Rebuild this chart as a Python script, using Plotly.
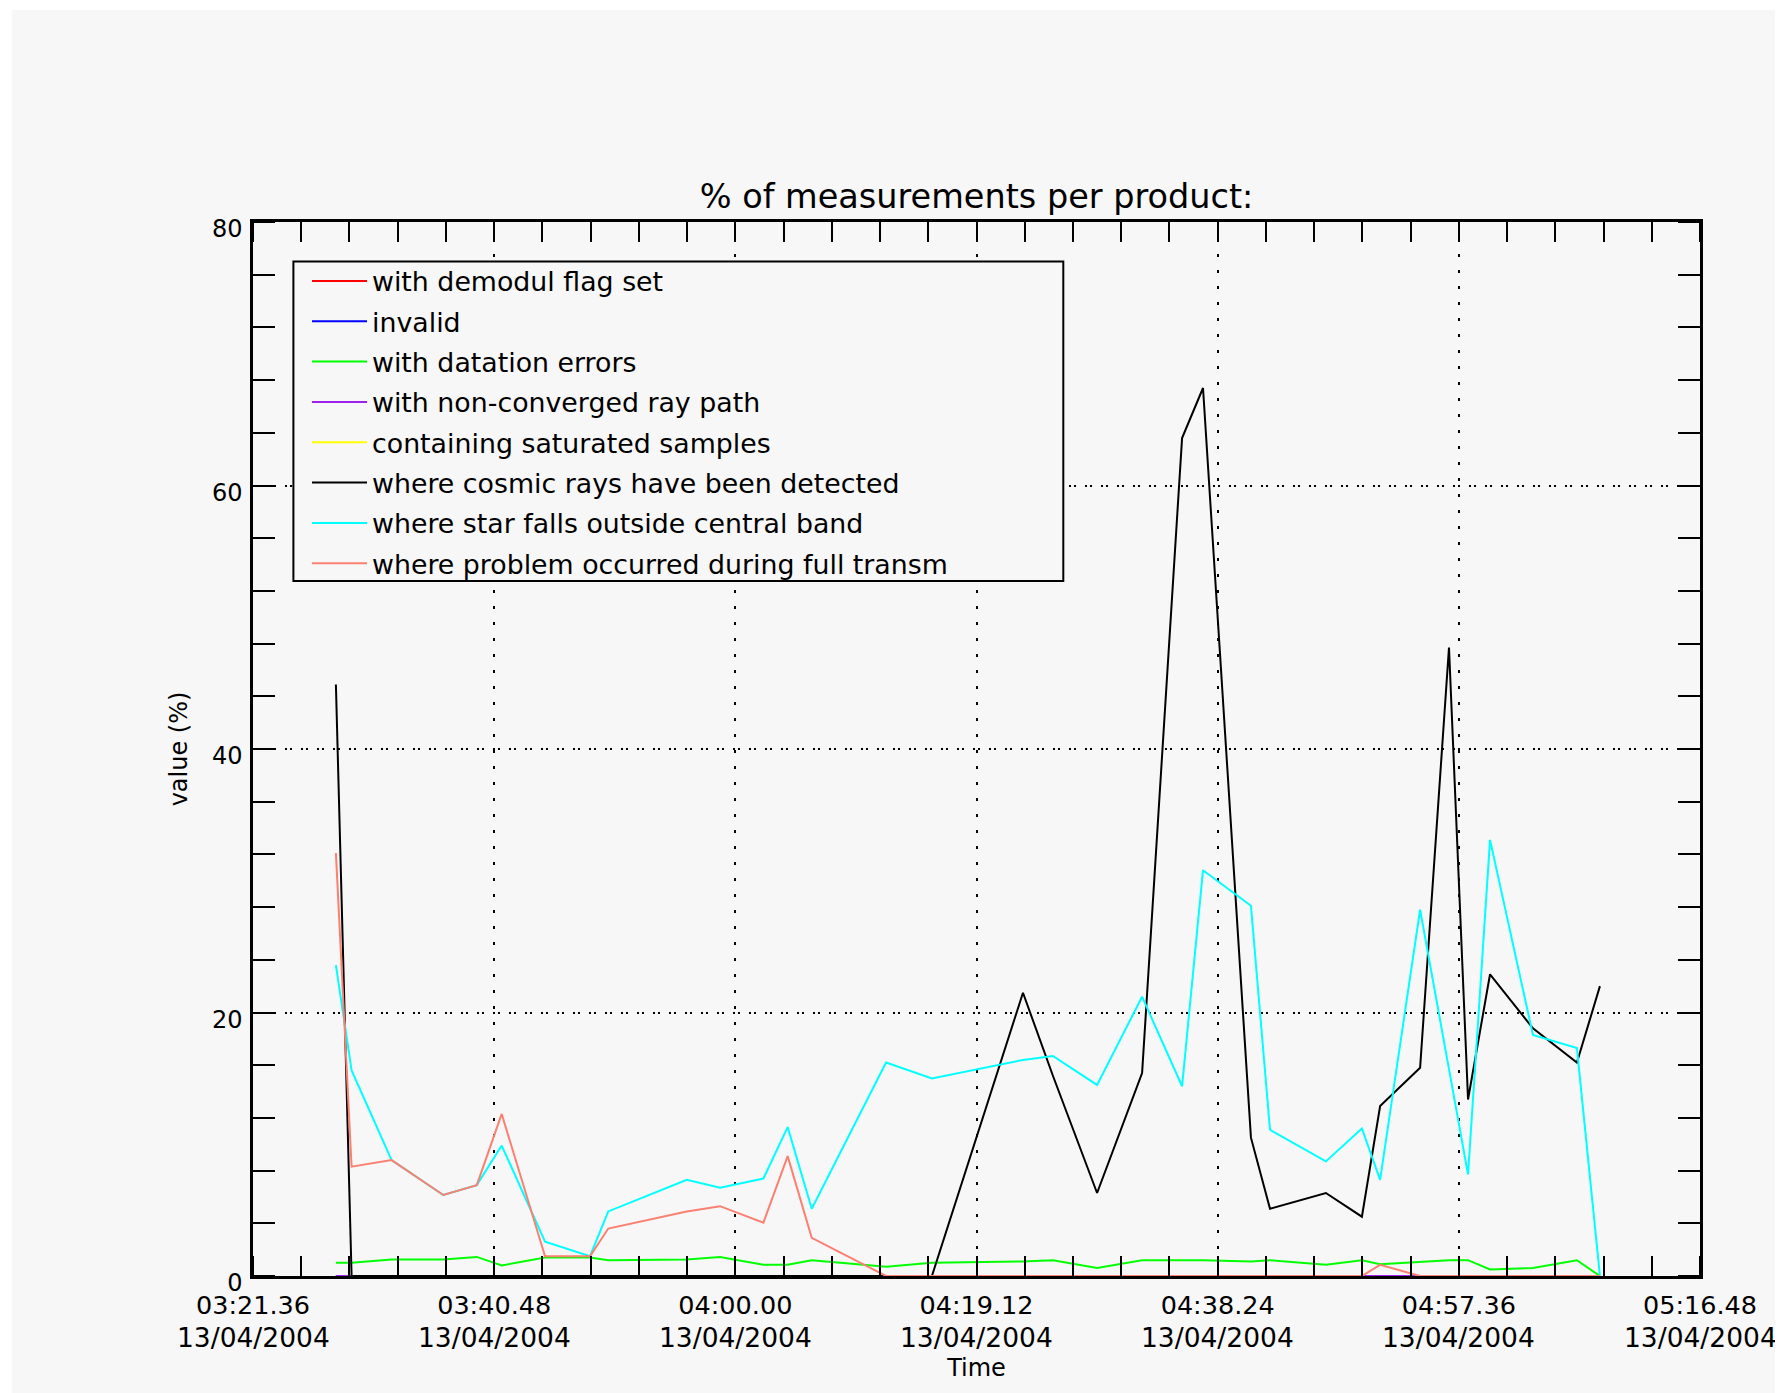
import plotly.graph_objects as go

DAY = "2004-04-13 "

# sample times (HH:MM:SS) of the products
times = ["03:28:12", "03:29:27", "03:32:38", "03:36:45", "03:39:25", "03:41:24",
         "03:44:51", "03:48:26", "03:49:53", "03:56:08", "03:58:47", "04:02:14",
         "04:04:10", "04:06:05", "04:12:00", "04:15:39", "04:22:54", "04:25:17",
         "04:28:48", "04:32:23", "04:35:34", "04:37:14", "04:41:03", "04:42:34",
         "04:47:01", "04:49:53", "04:51:20", "04:54:31", "04:56:49", "04:58:20",
         "05:00:05", "05:03:30", "05:07:00", "05:08:50"]

demodul = [0, 0, 0, 0, 0, 0, 0, 0, 0, 0, 0, 0, 0, 0, 0, 0, 0,
           0, 0, 0, 0, 0, 0, 0, 0, 0, 0, 0, 0, 0, 0, 0, 0, 0]
invalid = [0, 0, 0, 0, 0, 0, 0, 0, 0, 0, 0, 0, 0, 0, 0, 0, 0,
           0, 0, 0, 0, 0, 0, 0, 0, 0, 0, 0, 0, 0, 0, 0, 0, 0]
dation = [1.0, 1.0, 1.25, 1.25, 1.45, 0.8, 1.4, 1.4, 1.2, 1.25, 1.45, 0.85,
          0.85, 1.2, 0.7, 1.0, 1.1, 1.2, 0.6, 1.2, 1.2, 1.2, 1.1, 1.2,
          0.85, 1.2, 0.9, 1.1, 1.2, 1.2, 0.5, 0.6, 1.2, 0.0]
nonconv = [0, 0, 0, 0, 0, 0, 0, 0, 0, 0, 0, 0, 0, 0, 0, 0, 0,
           0, 0, 0, 0, 0, 0, 0, 0, 0, 0, 0, 0, 0, 0, 0, 0, 0]
saturated = [0, 0, 0, 0, 0, 0, 0, 0, 0, 0, 0, 0, 0, 0, 0, 0, 0,
             0, 0, 0, 0, 0, 0, 0, 0, 0, 0, 0, 0, 0, 0, 0, 0, 0]
cosmic = [44.9, 0, 0, 0, 0, 0, 0, 0, 0, 0, 0, 0, 0, 0, 0, 0, 21.5, 15.2,
          6.3, 15.4, 63.6, 67.4, 10.5, 5.1, 6.3, 4.5, 12.9, 15.8, 47.7, 13.4,
          22.9, 18.8, 16.2, 22.0]
star_out = [23.6, 15.6, 8.8, 6.15, 6.9, 9.9, 2.6, 1.5, 4.9, 7.3, 6.7, 7.4,
            11.3, 5.1, 16.2, 15.0, 16.4, 16.7, 14.5, 21.2, 14.4, 30.8, 28.1, 11.1,
            8.7, 11.2, 7.3, 27.8, 15.7, 7.7, 33.1, 18.3, 17.3, 0.0]
full_transm = [32.1, 8.3, 8.8, 6.15, 6.9, 12.3, 1.5, 1.5, 3.6, 4.9, 5.3, 4.05,
               9.1, 2.9, 0, 0, 0, 0, 0, 0, 0, 0, 0, 0,
               0, 0, 0.85, 0, 0, 0, 0, 0, 0, 0]

series_names = ["with demodul flag set", "invalid", "with datation errors",
                "with non-converged ray path", "containing saturated samples",
                "where cosmic rays have been detected",
                "where star falls outside central band",
                "where problem occurred during full transm"]
series_values = [demodul, invalid, dation, nonconv, saturated, cosmic, star_out, full_transm]
series_colors = ["#ff0000", "#0000ff", "#00ff00", "#a020f0", "#ffff00",
                 "#000000", "#00ffff", "#fa8072"]
# drawing order (purple ends up over yellow, as in the original)
draw_order = [0, 1, 2, 4, 3, 5, 6, 7]

x_tick_times = ["03:21:36", "03:40:48", "04:00:00", "04:19:12", "04:38:24",
                "04:57:36", "05:16:48"]
x_tick_time_text = ["03:21.36", "03:40.48", "04:00.00", "04:19.12",
                    "04:38.24", "04:57.36", "05:16.48"]
x_tick_date_text = ["13/04/2004", "13/04/2004", "13/04/2004", "13/04/2004",
                    "13/04/2004", "13/04/2004", "13/04/2004"]
y_tick_vals = [0, 20, 40, 60, 80]
y_tick_text = ["0", "20", "40", "60", "80"]

BG = "#f7f7f7"
FONT = "DejaVu Sans"
WIN_W, WIN_H = 1783, 1393
OFF = 8  # default page margin of the html body
W, H = WIN_W - OFF, WIN_H - OFF
PL, PR, PT, PB = 253, 1700, 222, 1276   # plot box in window pixels
L, R, T, B = PL - OFF, WIN_W - PR, PT - OFF, WIN_H - PB
PW, PH = PR - PL, PB - PT


def wx(px):
    """window x pixel -> paper x"""
    return (px - PL) / PW


def wy(py):
    """window y pixel -> paper y"""
    return (PB - py) / PH


xs = [DAY + t for t in times]
fig = go.Figure()
for i in draw_order:
    fig.add_trace(go.Scatter(x=xs, y=series_values[i], mode="lines", name=series_names[i],
                             line=dict(color=series_colors[i], width=2),
                             legendgroup="g%d" % i, legendrank=i + 1))

annotations = []
for t, txt in zip(x_tick_times, x_tick_date_text):
    annotations.append(dict(x=DAY + t, xref="x", y=wy(1337), yref="paper",
                            text=txt, showarrow=False, xanchor="center", yanchor="middle",
                            font=dict(size=26.5, family=FONT, color="black")))

fig.update_layout(
    width=W, height=H,
    margin=dict(l=L, r=R, t=T, b=B, pad=0),
    paper_bgcolor=BG, plot_bgcolor=BG,
    font=dict(family=FONT, color="black"),
    title=dict(text="% of measurements per product:", x=0.5, xref="paper",
               y=1 - (196.5 - OFF) / H, yref="container", yanchor="middle", xanchor="center",
               font=dict(size=33.5, family=FONT, color="black")),
    showlegend=True,
    legend=dict(x=wx(307), y=wy(257), xanchor="left", yanchor="top",
                bgcolor="rgba(0,0,0,0)", borderwidth=0,
                font=dict(size=26.8, family=FONT, color="black"),
                itemwidth=55, tracegroupgap=2.5, traceorder="grouped"),
    xaxis=dict(type="date",
               range=[DAY + x_tick_times[0], DAY + x_tick_times[-1]],
               tickmode="array", tickvals=[DAY + t for t in x_tick_times],
               ticktext=x_tick_time_text, ticks="", ticklabelstandoff=5,
               tickfont=dict(size=25.5, family=FONT, color="black"),
               showgrid=True, gridcolor="black", gridwidth=2, griddash="3px,13px",
               showline=True, linecolor="black", linewidth=2.5, mirror="allticks",
               zeroline=False,
               minor=dict(ticks="inside", ticklen=20, tickwidth=2, tickcolor="black",
                          dtick=230400, tick0=DAY + x_tick_times[0], showgrid=False),
               title=dict(text="Time", font=dict(size=24, family=FONT, color="black"),
                          standoff=40)),
    yaxis=dict(range=[0, 80], tickmode="array", tickvals=y_tick_vals, ticktext=y_tick_text,
               ticks="", tickfont=dict(size=24, family=FONT, color="black"),
               ticklabelstandoff=3, ticklabelshift=7,
               showgrid=True, gridcolor="black", gridwidth=2, griddash="2px,3px,2px,9px",
               showline=True, linecolor="black", linewidth=2.5, mirror="allticks",
               zeroline=False,
               minor=dict(ticks="inside", ticklen=22, tickwidth=2, tickcolor="black",
                          dtick=4, tick0=0, showgrid=False),
               title=dict(text="value (%)", font=dict(size=24, family=FONT, color="black"),
                          standoff=18)),
    annotations=annotations,
    shapes=[
        # legend frame (opaque, hides grid lines)
        dict(type="rect", xref="paper", yref="paper", layer="above",
             x0=wx(293.4), x1=wx(1063.3), y0=wy(581.1), y1=wy(261.6),
             fillcolor=BG, line=dict(color="black", width=2)),
        # white page margins
        dict(type="rect", xref="paper", yref="paper", layer="below",
             x0=wx(OFF), x1=wx(12), y0=wy(WIN_H), y1=wy(OFF),
             fillcolor="white", line=dict(width=0)),
        dict(type="rect", xref="paper", yref="paper", layer="below",
             x0=wx(OFF), x1=wx(WIN_W), y0=wy(10), y1=wy(OFF),
             fillcolor="white", line=dict(width=0)),
    ],
)

fig.write_html("out.html")
